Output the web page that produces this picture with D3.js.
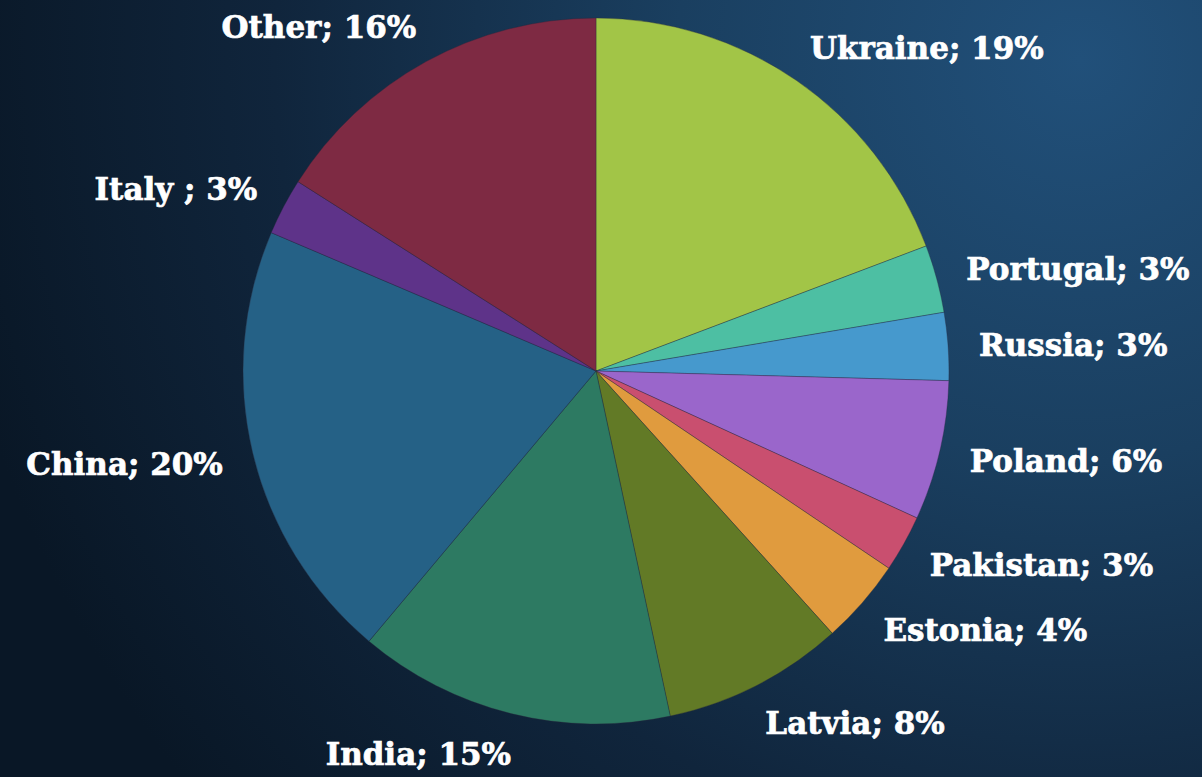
<!DOCTYPE html>
<html>
<head>
<meta charset="utf-8">
<script src="https://cdn.jsdelivr.net/npm/d3@7"></script>
<style>
  html, body { margin: 0; padding: 0; overflow: hidden; background: #0c1b2d; }
  svg { display: block; }
  .lbl { font-family: "DejaVu Serif", serif; font-weight: bold; fill: #ffffff; stroke: #ffffff; stroke-width: 0.7px; }
</style>
</head>
<body>
<div id="chart"></div>
<script>
// slice data, clockwise from 12 o'clock
var countries = ["Ukraine", "Portugal", "Russia", "Poland", "Pakistan", "Estonia", "Latvia", "India", "China", "Italy ", "Other"];
var shares = [19.25, 3.1, 3.1, 6.4, 2.6, 3.9, 8.3, 14.5, 20.3, 2.6, 16.0];
var shareLabels = ["19%", "3%", "3%", "6%", "3%", "4%", "8%", "15%", "20%", "3%", "16%"];
var sliceColors = ["#a2c547", "#4dbfa3", "#4699cd", "#9a66cb", "#c94f6f", "#e09b3e", "#627a26", "#2d7a62", "#256186", "#5e3389", "#7e2a43"];

var width = 1202, height = 777;
var cx = 596, cy = 371, radius = 353, labelRadius = 394;

var svg = d3.select("#chart").append("svg").attr("width", width).attr("height", height);

// background
var defs = svg.append("defs");
var bg = defs.append("radialGradient").attr("id", "bg")
	.attr("gradientUnits", "userSpaceOnUse")
	.attr("cx", 1080).attr("cy", 60).attr("r", 1150);
bg.append("stop").attr("offset", "0%").attr("stop-color", "#21507a");
bg.append("stop").attr("offset", "35%").attr("stop-color", "#1a3f60");
bg.append("stop").attr("offset", "70%").attr("stop-color", "#10253c");
bg.append("stop").attr("offset", "100%").attr("stop-color", "#091726");
svg.append("rect").attr("width", width).attr("height", height).attr("fill", "url(#bg)");

var data = countries.map(function(c, i){ return { name: c, value: shares[i], pct: shareLabels[i], color: sliceColors[i] }; });

var pie = d3.pie().sort(null).value(function(d){ return d.value; });
var arcs = pie(data);

var arc = d3.arc().innerRadius(0).outerRadius(radius);

var g = svg.append("g").attr("transform", "translate(" + cx + "," + cy + ")");

g.selectAll("path.slice")
	.data(arcs)
	.enter()
	.append("path")
	.attr("class", "slice")
	.attr("d", arc)
	.attr("fill", function(d){ return d.data.color; })
	.attr("stroke", "rgba(40,40,60,0.45)")
	.attr("stroke-width", 0.8);

function mid(d){ return (d.startAngle + d.endAngle) / 2; }

// labels sit on a ring outside the pie, anchored away from the centre
g.selectAll("text.lbl")
	.data(arcs)
	.enter()
	.append("text")
	.attr("class", "lbl")
	.attr("font-size", 31)
	.attr("dominant-baseline", "central")
	.attr("x", function(d){
		var x = labelRadius * Math.sin(mid(d));
		return Math.sin(mid(d)) >= 0 ? x - 10 : x + 10;
	})
	.attr("y", function(d){ return -labelRadius * Math.cos(mid(d)) + 1; })
	.attr("text-anchor", function(d){ return Math.sin(mid(d)) >= 0 ? "start" : "end"; })
	.text(function(d){ return d.data.name + "; " + d.data.pct; });
</script>
</body>
</html>
